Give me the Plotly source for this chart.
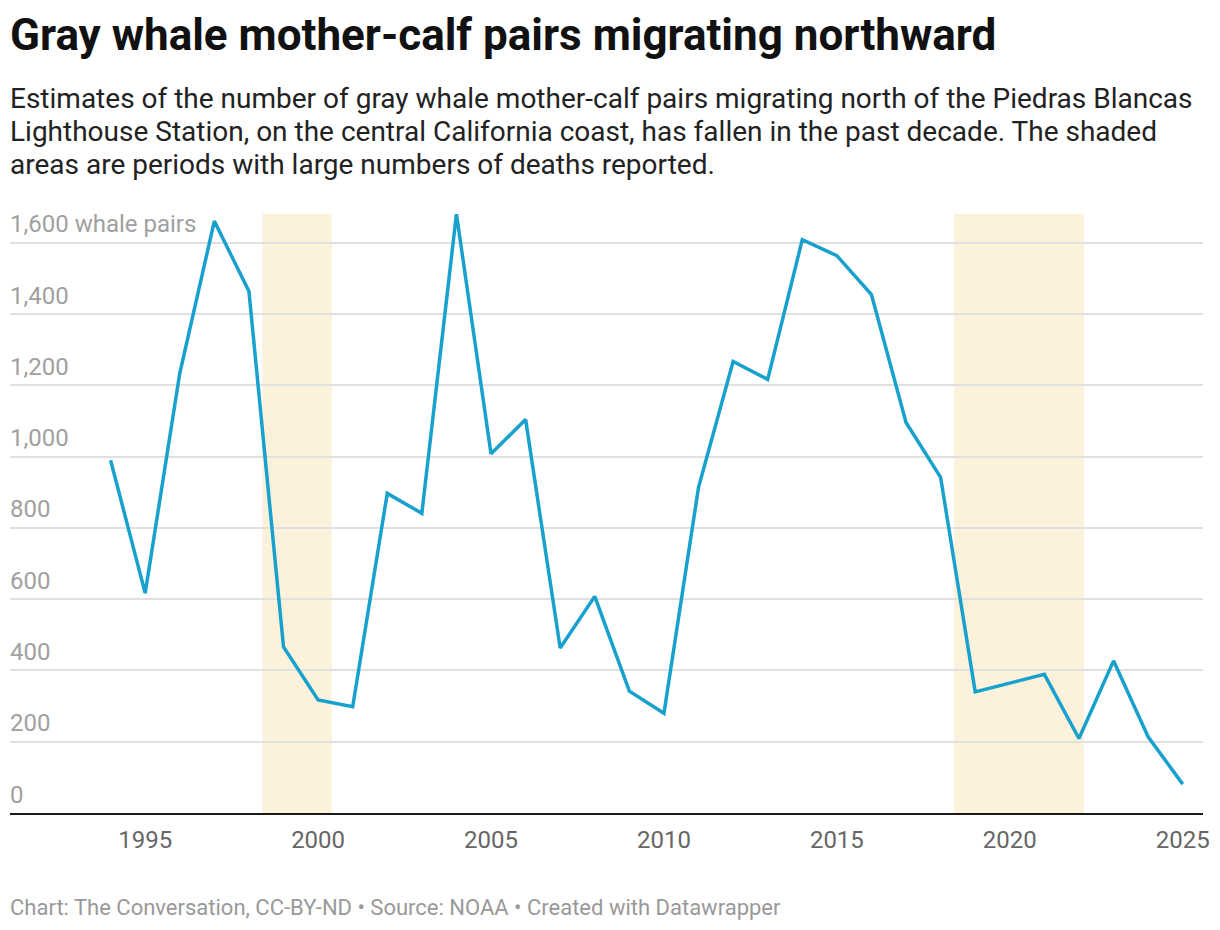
import plotly.graph_objects as go

years = [1994, 1995, 1996, 1997, 1998, 1999, 2000, 2001, 2002, 2003, 2004, 2005,
         2006, 2007, 2008, 2009, 2010, 2011, 2012, 2013, 2014, 2015, 2016, 2017,
         2018, 2019, 2021, 2022, 2023, 2024, 2025]
pairs = [990, 617, 1234, 1661, 1464, 466, 317, 298, 897, 841, 1681, 1008,
         1104, 463, 608, 342, 280, 914, 1267, 1217, 1609, 1564, 1455, 1096,
         942, 340, 389, 209, 427, 214, 81]

shade_starts = [1998.39, 2018.39]
shade_ends = [2000.39, 2022.14]

y_ticks = [0, 200, 400, 600, 800, 1000, 1200, 1400, 1600]
y_ticktext = ["0", "200", "400", "600", "800", "1,000", "1,200", "1,400", "1,600 whale pairs"]
x_ticks = [1995, 2000, 2005, 2010, 2015, 2020, 2025]

title = "Gray whale mother-calf pairs migrating northward"
subtitle_lines = [
    "Estimates of the number of gray whale mother-calf pairs migrating north of the Piedras Blancas",
    "Lighthouse Station, on the central California coast, has fallen in the past decade. The shaded",
    "areas are periods with large numbers of deaths reported.",
]
footer = "Chart: The Conversation, CC-BY-ND • Source: NOAA • Created with Datawrapper"

FONT = "Roboto"
W, H = 1220, 930
L, R, T, B = 10, 17, 214, 117
pw, ph = W - L - R, H - T - B


def px_x(px):
    return (px - L) / pw


def px_y(py):
    return (H - B - py) / ph


fig = go.Figure()
fig.add_trace(go.Scatter(
    x=years, y=pairs, mode="lines",
    line=dict(color="#18a1cd", width=3.5),
    hoverinfo="x+y", showlegend=False,
))

for s, e in zip(shade_starts, shade_ends):
    fig.add_shape(type="rect", xref="x", yref="paper", x0=s, x1=e, y0=0, y1=1,
                  fillcolor="#fcf2dc", line=dict(width=0), layer="below")

# x range so that 1994 sits at ~110px and 2025 at ~1183px
ppy = (1182.7 - 110.6) / (2025 - 1994)
x0 = 1994 - (110.6 - L) / ppy
x1 = 2025 + (L + pw - 1182.7) / ppy

annotations = []
# y tick labels sitting above their gridlines
for v, t in zip(y_ticks, y_ticktext):
    annotations.append(dict(text=t, xref="paper", yref="y", x=0, y=v,
                            xanchor="left", yanchor="middle", yshift=18.5, xshift=-2,
                            showarrow=False, font=dict(family=FONT, size=24, color="#a0a0a0")))

annotations.append(dict(text="<b>" + title + "</b>", xref="paper", yref="paper",
                        x=px_x(10), y=px_y(35), xanchor="left", yanchor="middle", xshift=-2,
                        showarrow=False, font=dict(family=FONT, size=44, color="#111")))
for i, line in enumerate(subtitle_lines):
    baseline = 108 + i * 33.2
    annotations.append(dict(text=line, xref="paper", yref="paper",
                            x=px_x(10), y=px_y(baseline - 10), xanchor="left", yanchor="middle",
                            xshift=-2, showarrow=False,
                            font=dict(family=FONT, size=28, color="#222")))
annotations.append(dict(text=footer, xref="paper", yref="paper",
                        x=px_x(10), y=px_y(907), xanchor="left", yanchor="middle", xshift=-2,
                        showarrow=False, font=dict(family=FONT, size=22, color="#999")))

fig.update_layout(
    width=W, height=H,
    margin=dict(l=L, r=R, t=T, b=B),
    paper_bgcolor="white", plot_bgcolor="white",
    font=dict(family=FONT, color="#333"),
    xaxis=dict(
        range=[x0, x1], tickvals=x_ticks, ticktext=[str(v) for v in x_ticks],
        showgrid=False, zeroline=False, showline=True, linecolor="#1a1a1a", linewidth=2,
        ticks="", ticklen=0, tickfont=dict(family=FONT, size=24, color="#666"),
        ticklabelstandoff=4,
    ),
    yaxis=dict(
        range=[0, 1681], tickvals=y_ticks, showticklabels=False,
        showgrid=True, gridcolor="#e0e0e0", gridwidth=1.5, zeroline=False, showline=False,
        ticks="",
    ),
    annotations=annotations,
)

fig.write_html("out.html", post_script="document.body.style.margin='0';",
               config={"displayModeBar": False})
